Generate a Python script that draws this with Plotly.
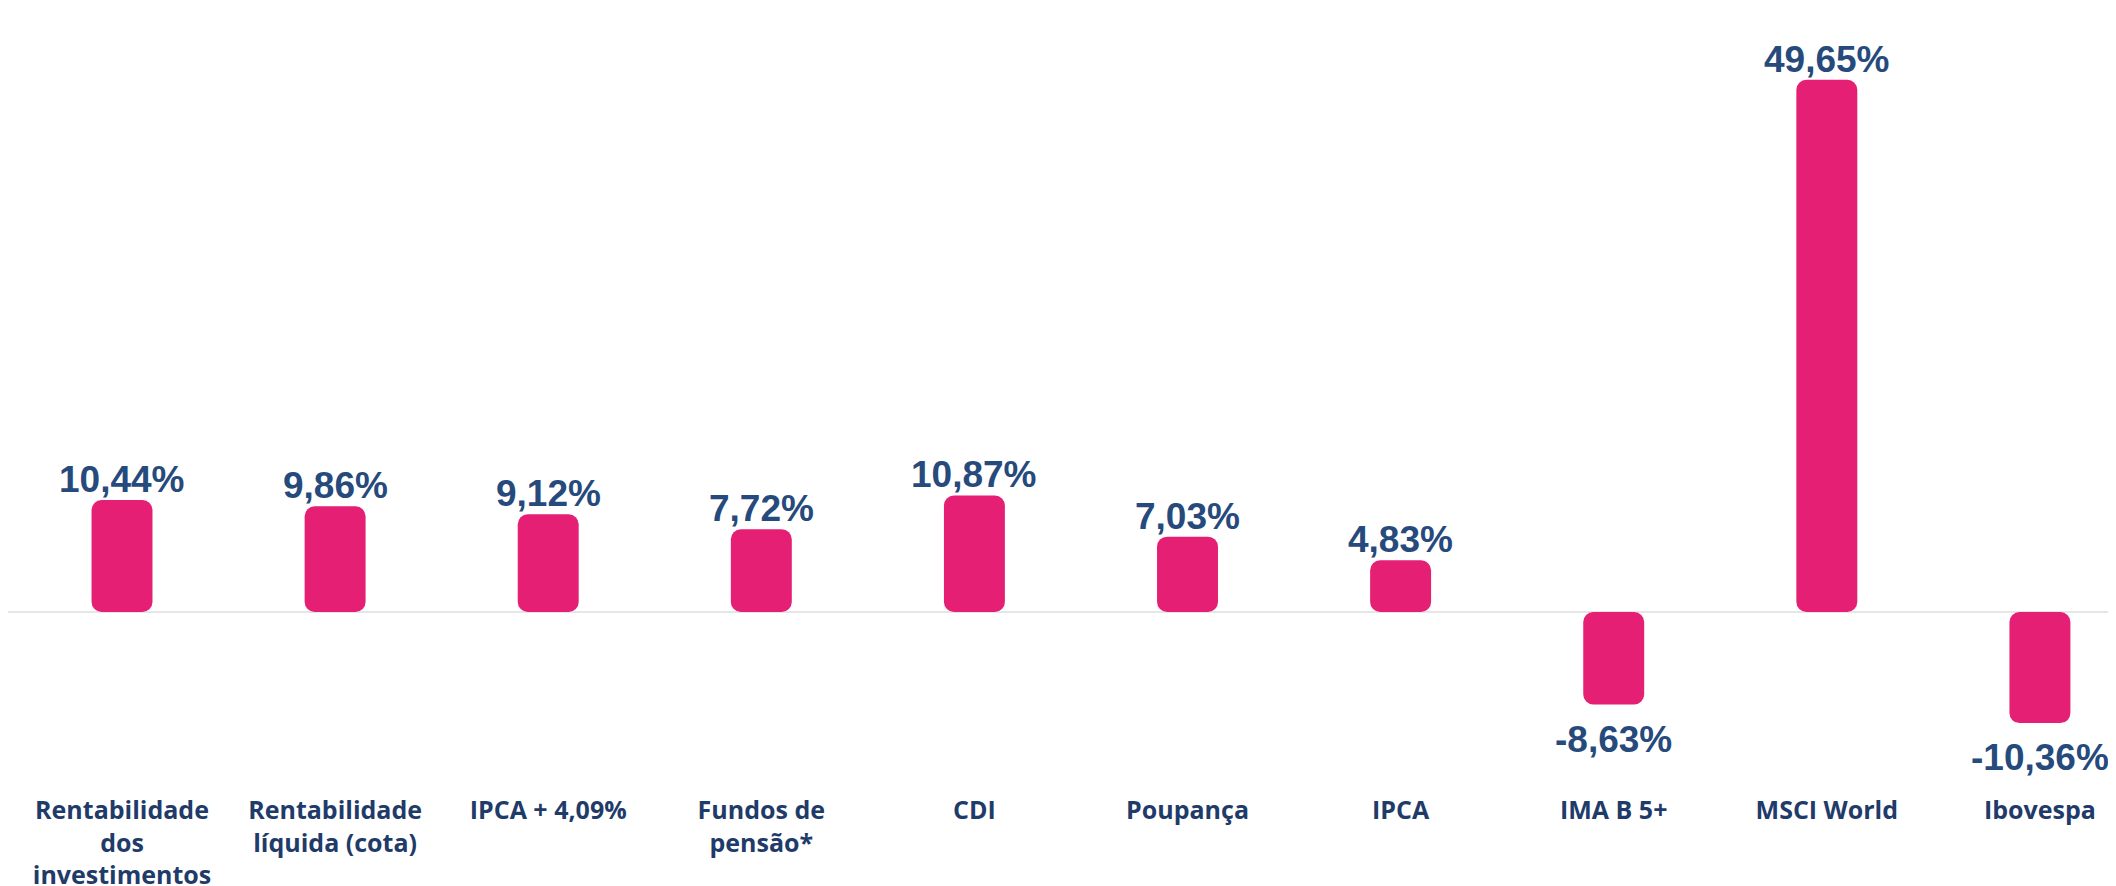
import plotly.graph_objects as go

categories = [
    "Rentabilidade<br>dos<br>investimentos",
    "Rentabilidade<br>líquida (cota)",
    "IPCA + 4,09%",
    "Fundos de<br>pensão*",
    "CDI",
    "Poupança",
    "IPCA",
    "IMA B 5+",
    "MSCI World",
    "Ibovespa",
]
values = [10.44, 9.86, 9.12, 7.72, 10.87, 7.03, 4.83, -8.63, 49.65, -10.36]
value_labels = ["10,44%", "9,86%", "9,12%", "7,72%", "10,87%", "7,03%", "4,83%", "-8,63%", "49,65%", "-10,36%"]

BAR_COLOR = "#E51F73"
LABEL_COLOR = "#264A7C"
CAT_COLOR = "#1F3B69"

xs = list(range(len(categories)))
zero_base = [0 for _ in values]

fig = go.Figure()
fig.add_trace(go.Bar(x=xs, y=values, base=zero_base, width=0.286,
                     marker=dict(color=BAR_COLOR, line=dict(width=0), cornerradius=10),
                     hoverinfo="skip", showlegend=False))

for x, v, t in zip(xs, values, value_labels):
    fig.add_annotation(
        x=x, y=v, text=t, showarrow=False,
        yanchor="bottom" if v >= 0 else "top",
        yshift=-2 if v >= 0 else -12,
        font=dict(family="Liberation Sans, Arial", size=37, color=LABEL_COLOR, weight="bold"),
    )

fig.update_layout(
    width=2108, height=878,
    margin=dict(l=0, r=0, t=0, b=93, autoexpand=False),
    paper_bgcolor="white", plot_bgcolor="white",
    barmode="overlay",
    xaxis=dict(
        range=[-0.535, 9.357], automargin=False,
        tickmode="array", tickvals=xs, ticktext=categories,
        showgrid=False, zeroline=False, showline=False, ticks="",
        tickfont=dict(family="Open Sans", size=25, color=CAT_COLOR, weight="bold"),
        fixedrange=True,
    ),
    yaxis=dict(
        range=[-16.88, 56.34], automargin=False,
        showgrid=False, showticklabels=False, ticks="",
        zeroline=True, zerolinecolor="#E6E6E6", zerolinewidth=2,
        showline=False, fixedrange=True,
    ),
)

fig.write_html("out.html")
